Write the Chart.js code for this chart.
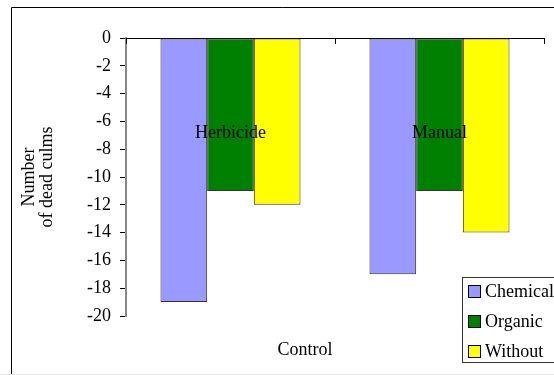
<!DOCTYPE html>
<html>
<head>
<meta charset="utf-8">
<script src="https://cdn.jsdelivr.net/npm/chart.js@4/dist/chart.umd.min.js"></script>
<style>
  html, body { margin: 0; padding: 0; background: #fff; }
  #wrap { width: 554px; height: 375px; position: relative; }
</style>
</head>
<body>
<div id="wrap"><canvas id="c" width="554" height="375"></canvas></div>
<script>
// Treatments along the category axis and the control label underneath
const categories = ['Herbicide', 'Manual'];
const axisCaption = 'Control';

// Series: fertiliser type
const seriesNames = ['Chemical', 'Organic', 'Without'];
const chemical = [-19, -17];
const organic = [-11, -11];
const without = [-12, -14];

// Value axis
const yMin = -20;
const yMax = 0;
const yStep = 2;
const yTitle = ['Number', 'of dead culms'];

const colors = ['#9999FF', '#008000', '#FFFF00'];
const FONT = '"Liberation Serif", "Times New Roman", serif';

// Outer frame of the chart object
const framePlugin = {
  id: 'frame',
  beforeDraw(chart) {
    const ctx = chart.ctx;
    ctx.save();
    ctx.fillStyle = '#fff';
    ctx.fillRect(0, 0, chart.width, chart.height);
    ctx.strokeStyle = '#000';
    ctx.lineWidth = 1;
    ctx.beginPath();
    ctx.moveTo(11.5, chart.height);
    ctx.lineTo(11.5, 7.5);
    ctx.lineTo(chart.width, 7.5);
    ctx.stroke();
    ctx.strokeStyle = '#e4e4e4';
    ctx.beginPath();
    ctx.moveTo(0, chart.height - 0.5);
    ctx.lineTo(chart.width, chart.height - 0.5);
    ctx.stroke();
    ctx.restore();
  }
};

// Category labels, category tick marks, axis caption and legend box
const annotatePlugin = {
  id: 'annotate',
  afterDatasetsDraw(chart) {
    const ctx = chart.ctx;
    const xs = chart.scales.x;
    const area = chart.chartArea;
    ctx.save();

    // tick marks on the zero axis at category boundaries
    ctx.strokeStyle = '#000';
    ctx.lineWidth = 1;
    const bounds = [area.left, (xs.getPixelForValue(0) + xs.getPixelForValue(1)) / 2, area.right];
    ctx.beginPath();
    bounds.forEach(b => {
      const px = Math.round(b) + 0.5;
      ctx.moveTo(px, area.top);
      ctx.lineTo(px, area.top + 6);
    });
    ctx.stroke();

    // category names over the bar groups
    ctx.fillStyle = '#000';
    ctx.font = '18px ' + FONT;
    ctx.textAlign = 'center';
    ctx.textBaseline = 'middle';
    categories.forEach((c, i) => {
      ctx.fillText(c, xs.getPixelForValue(i), area.top + 95);
    });

    // axis caption
    ctx.fillText(axisCaption, area.left + 179, area.bottom + 34);

    // legend
    const lx = 462.5, ly = 277.5;
    ctx.strokeStyle = '#333';
    ctx.fillStyle = '#fff';
    ctx.fillRect(lx, ly, 120, 85);
    ctx.strokeRect(lx, ly, 120, 85);
    ctx.textAlign = 'left';
    seriesNames.forEach((name, i) => {
      const cy = 291 + i * 30;
      ctx.fillStyle = colors[i];
      ctx.fillRect(468.5, cy - 6, 12, 12);
      ctx.strokeStyle = '#000';
      ctx.strokeRect(468.5, cy - 6 + 0.5, 12, 12);
      ctx.fillStyle = '#000';
      ctx.fillText(name, 485, cy + 1);
    });
    ctx.restore();
  }
};

const seriesData = [chemical, organic, without];

function build() {
  new Chart(document.getElementById('c'), {
    type: 'bar',
    data: {
      labels: categories,
      datasets: seriesNames.map((name, i) => ({
        label: name,
        data: seriesData[i],
        backgroundColor: colors[i],
        borderColor: '#333',
        borderWidth: 1,
        borderSkipped: false,
        categoryPercentage: 0.67,
        barPercentage: 1.0
      }))
    },
    options: {
      responsive: false,
      animation: false,
      layout: { padding: { left: 12, top: 38, right: 10, bottom: 59 } },
      plugins: {
        legend: { display: false },
        tooltip: { enabled: false }
      },
      scales: {
        x: {
          display: false
        },
        y: {
          min: yMin,
          max: yMax,
          afterFit(scale) { scale.width = 114; },
          ticks: {
            stepSize: yStep,
            color: '#000',
            padding: 9,
            font: { family: FONT, size: 18 }
          },
          grid: {
            drawOnChartArea: true,
            color: ctx => (ctx.tick && ctx.tick.value === 0) ? '#000' : 'rgba(0,0,0,0)',
            tickColor: '#000',
            tickLength: 6,
            lineWidth: 1
          },
          border: { display: true, color: '#888', width: 2 },
          title: {
            display: true,
            text: yTitle,
            color: '#000',
            font: { family: FONT, size: 18, lineHeight: 1 },
            padding: { top: 8, bottom: 0 }
          }
        }
      }
    },
    plugins: [framePlugin, annotatePlugin]
  });
}

if (document.fonts && document.fonts.load) {
  document.fonts.load('18px "Liberation Serif"').then(build, build);
} else {
  build();
}
</script>
</body>
</html>
